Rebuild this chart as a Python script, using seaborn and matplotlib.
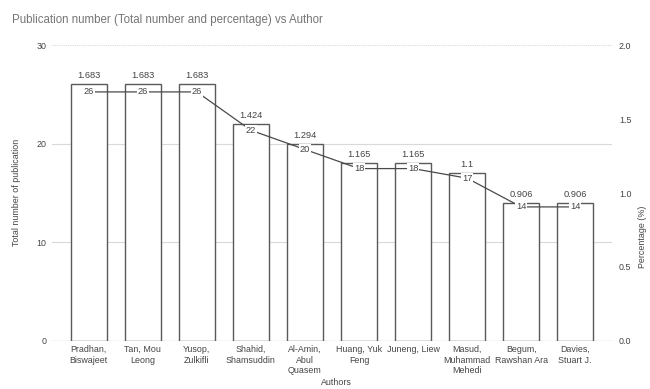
import numpy as np
import matplotlib
matplotlib.use("Agg")
import matplotlib.pyplot as plt
import seaborn as sns

authors = ["Pradhan,\nBiswajeet", "Tan, Mou\nLeong", "Yusop,\nZulkifli",
           "Shahid,\nShamsuddin", "Al-Amin,\nAbul\nQuasem", "Huang, Yuk\nFeng",
           "Juneng, Liew", "Masud,\nMuhammad\nMehedi", "Begum,\nRawshan Ara",
           "Davies,\nStuart J."]
publications = [26, 26, 26, 22, 20, 18, 18, 17, 14, 14]
percentage = [1.683, 1.683, 1.683, 1.424, 1.294, 1.165, 1.165, 1.1, 0.906, 0.906]
left_ticks = [0, 10, 20, 30]
right_ticks = [0.0, 0.5, 1.0, 1.5, 2.0]

sns.set_theme(style="white")
plt.rcParams["font.family"] = ["Liberation Sans", "DejaVu Sans"]

fig = plt.figure(figsize=(6.5, 3.89), dpi=100)
ax = fig.add_axes([0.08, 0.1234, 0.8615, 0.7609])

grid_c = "#d9d9d9"
text_c = "#444444"
fs = 6.4

sns.barplot(x=authors, y=publications, color="white", edgecolor="#5a5a5a",
            linewidth=1.0, width=0.67, ax=ax, zorder=3, saturation=1)
ax.set_ylim(0, 30)
ax.set_xlim(-0.68, 9.68)
ax.set_yticks(left_ticks)
ax.axhline(30, color=grid_c, lw=0.8, ls=(0, (1, 1)), zorder=1)
for t in left_ticks[1:-1]:
    ax.axhline(t, color=grid_c, lw=0.8, zorder=1)
ax.axhline(0, color="#b0b0b0", lw=0.9, zorder=2)
for s in ax.spines.values():
    s.set_visible(False)
ax.tick_params(axis="both", length=0, labelsize=fs, labelcolor=text_c, pad=4)
ax.tick_params(axis="x", pad=3)
ax.set_xlabel("")
ax.set_ylabel("")

ax.bar_label(ax.containers[0], labels=[f"{p:g}" for p in percentage],
             padding=3, fontsize=fs + 0.3, color=text_c)

ax2 = ax.twinx()
xs = np.arange(len(percentage))
sns.lineplot(x=xs, y=percentage, ax=ax2, color="#4a4a4a", lw=0.9, zorder=4)
ax2.set_ylim(0, 2.0)
ax2.set_yticks(right_ticks)
ax2.set_yticklabels([f"{v:.1f}" for v in right_ticks])
for s in ax2.spines.values():
    s.set_visible(False)
ax2.tick_params(axis="y", length=0, labelsize=fs, labelcolor=text_c, pad=5)
ax2.set_ylabel("")
ax2.grid(False)
for x, p, c in zip(xs, percentage, publications):
    ax2.annotate(str(c), (x, p), ha="center", va="center", fontsize=fs + 0.3,
                 color=text_c, zorder=5,
                 bbox=dict(boxstyle="square,pad=0.1", fc="white", ec="none"))

# Axis titles placed in figure coordinates, close to the edges
fig.text(0.518, 0.004, "Authors", fontsize=fs, color=text_c, ha="center", va="bottom")
fig.text(0.026, 0.505, "Total number of publication", fontsize=fs, color=text_c,
         rotation=90, ha="center", va="center")
fig.text(0.988, 0.39, "Percentage (%)", fontsize=fs, color=text_c,
         rotation=90, ha="center", va="center")

fig.text(0.018, 0.948, "Publication number (Total number and percentage) vs Author",
         fontsize=8.3, color="#757575", ha="left", va="center")

fig.savefig("out.png", dpi=100)
